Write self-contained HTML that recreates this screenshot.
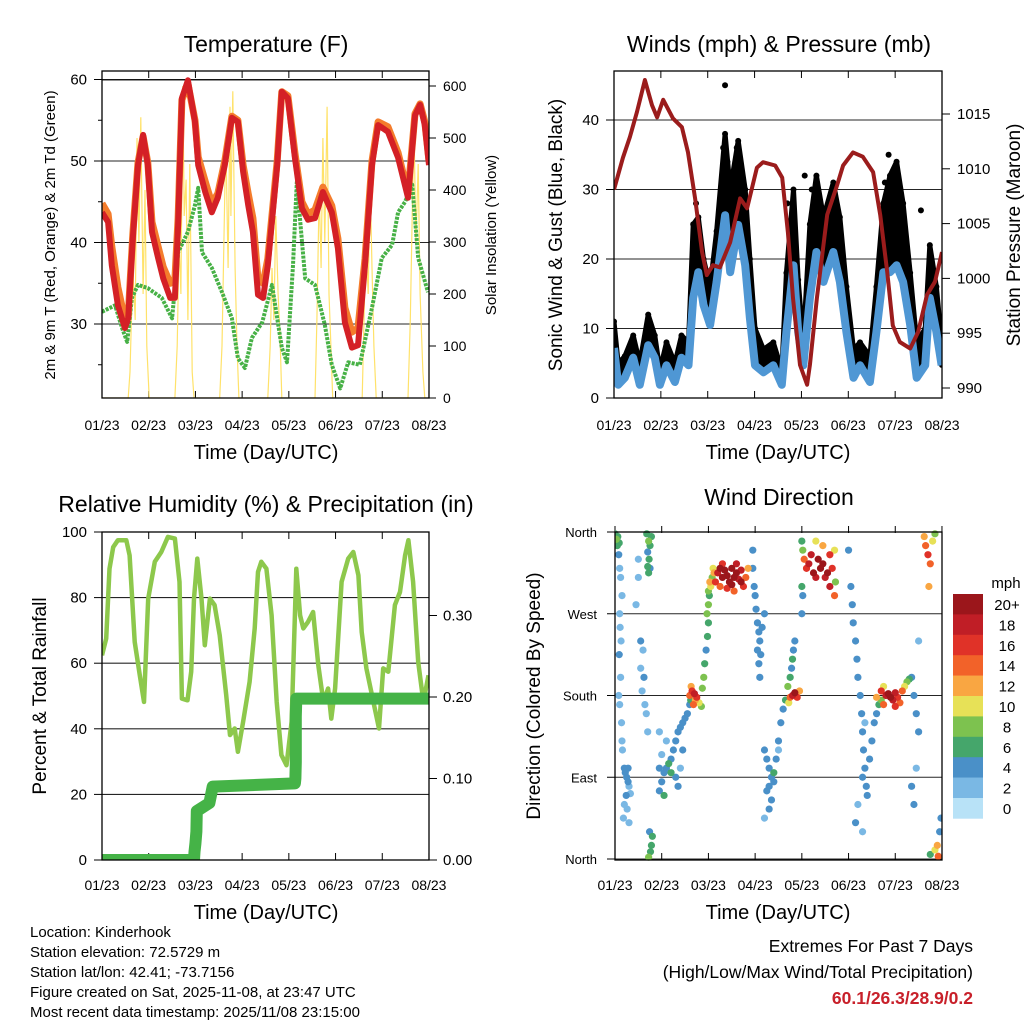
<!DOCTYPE html>
<html><head><meta charset="utf-8"><style>
html,body{margin:0;padding:0;background:#fff}
svg{display:block;font-family:"Liberation Sans",Arial,sans-serif}
</style></head><body>
<svg id="root" width="1024" height="1024" viewBox="0 0 1024 1024" xmlns="http://www.w3.org/2000/svg">
<defs>
<clipPath id="cT"><rect x="102" y="71" width="327" height="327"/></clipPath>
<clipPath id="cW"><rect x="614" y="71" width="328" height="327"/></clipPath>
<clipPath id="cR"><rect x="102" y="532" width="327" height="328"/></clipPath>
<clipPath id="cD"><rect x="615" y="526" width="327" height="340"/></clipPath>
</defs>
<g id="static" fill="#000">
<text x="266" y="52" font-size="23" text-anchor="middle">Temperature (F)</text>
<text x="779" y="52" font-size="23" text-anchor="middle">Winds (mph) &amp; Pressure (mb)</text>
<text x="266" y="512" font-size="23" text-anchor="middle">Relative Humidity (%) &amp; Precipitation (in)</text>
<text x="779" y="505" font-size="23" text-anchor="middle">Wind Direction</text>
<text x="266" y="459" font-size="20" text-anchor="middle">Time (Day/UTC)</text>
<text x="778" y="459" font-size="20" text-anchor="middle">Time (Day/UTC)</text>
<text x="266" y="919" font-size="20" text-anchor="middle">Time (Day/UTC)</text>
<text x="778" y="919" font-size="20" text-anchor="middle">Time (Day/UTC)</text>
<text transform="translate(55,235) rotate(-90)" font-size="15" text-anchor="middle">2m &amp; 9m T (Red, Orange) &amp; 2m Td (Green)</text>
<text transform="translate(496,235) rotate(-90)" font-size="15" text-anchor="middle">Solar Insolation (Yellow)</text>
<text transform="translate(562,235) rotate(-90)" font-size="19" text-anchor="middle">Sonic Wind &amp; Gust (Blue, Black)</text>
<text transform="translate(1020,235) rotate(-90)" font-size="19" text-anchor="middle">Station Pressure (Maroon)</text>
<text transform="translate(46,696) rotate(-90)" font-size="19" text-anchor="middle">Percent &amp; Total Rainfall</text>
<text transform="translate(540,696) rotate(-90)" font-size="19" text-anchor="middle">Direction (Colored By Speed)</text>
<g font-size="15">
<text x="30" y="937">Location: Kinderhook</text>
<text x="30" y="957">Station elevation: 72.5729 m</text>
<text x="30" y="977">Station lat/lon: 42.41; -73.7156</text>
<text x="30" y="997">Figure created on Sat, 2025-11-08, at 23:47 UTC</text>
<text x="30" y="1017">Most recent data timestamp: 2025/11/08 23:15:00</text>
</g>
<g font-size="17.5" text-anchor="end">
<text x="973" y="952">Extremes For Past 7 Days</text>
<text x="973" y="978">(High/Low/Max Wind/Total Precipitation)</text>
<text x="973" y="1004" fill="#c8202a" font-weight="bold">60.1/26.3/28.9/0.2</text>
</g>
<text x="1006" y="588" font-size="15" text-anchor="middle">mph</text>
</g>
<g id="dyn"></g>
</svg>
<script>
// ---------- Temperature panel data ----------
const tempDays=[0,0.13,0.21,0.34,0.49,0.56,0.66,0.77,0.88,0.98,1.07,1.20,1.31,1.46,1.56,1.63,1.71,1.84,1.99,2.06,2.21,2.35,2.48,2.63,2.78,2.91,3.02,3.13,3.23,3.34,3.45,3.55,3.75,3.85,3.98,4.13,4.28,4.41,4.56,4.73,4.92,5.05,5.20,5.35,5.48,5.63,5.78,5.91,6.12,6.34,6.55,6.70,6.81,6.91,7.00];
const temp2m=[43.7,42.5,37.2,32.3,29.5,30.7,40.5,49.5,53.2,49.5,41.3,38.1,35.6,33.2,33.2,42.1,57.7,59.9,54.8,49.5,46.2,43.7,45.5,49.5,55.3,54.8,48.7,44.6,41.3,33.6,33.2,37.2,49.5,58.5,57.7,50.4,44.2,42.8,43.0,46.2,43.7,39.3,30.2,27.1,27.4,37.2,49.5,54.4,53.6,50.4,45.5,55.6,56.9,54.4,49.5];
const temp9m=[44.8,43.5,39.5,34.5,30.5,31.0,41.0,49.8,53.0,49.8,42.5,39.5,37.0,35.0,35.5,43.0,57.5,59.5,55.0,50.5,47.5,44.8,46.0,50.0,55.5,55.0,49.5,46.0,43.0,35.5,35.0,38.0,50.0,58.5,58.0,51.0,45.0,43.5,44.0,46.8,44.5,40.5,32.0,29.0,29.5,38.0,50.0,54.8,54.2,51.0,46.0,55.8,57.0,54.8,50.0];
const dewDays=[0,0.28,0.43,0.54,0.64,0.77,0.98,1.28,1.50,1.63,1.84,1.99,2.06,2.14,2.35,2.57,2.78,2.91,3.06,3.21,3.43,3.64,3.85,3.96,4.09,4.17,4.35,4.56,4.77,4.92,5.10,5.27,5.52,5.78,5.99,6.21,6.34,6.49,6.64,6.77,6.98];
const dewpoint=[31.5,32.3,29.5,27.8,33.2,34.8,34.4,33.2,30.7,38.8,41.3,44.6,46.7,38.8,36.9,33.9,30.7,25.8,24.6,28.3,30.2,34.8,27.1,25.3,37.2,47.4,35.6,34.8,29.9,25.0,22.1,25.3,25.0,32.0,38.1,39.7,43.7,45.0,47.1,38.1,33.9];
const solarDays=[0,0.56,0.60,0.66,0.71,0.75,0.79,0.83,0.88,0.92,0.96,1.01,1.56,1.61,1.65,1.69,1.73,1.76,1.80,1.84,1.88,1.93,1.97,2.52,2.57,2.61,2.65,2.70,2.74,2.76,2.80,2.85,2.89,2.93,3.55,3.60,3.64,3.68,3.72,3.77,3.81,3.85,4.56,4.60,4.65,4.69,4.73,4.77,4.82,4.86,4.90,4.94,5.57,5.61,5.65,5.70,5.74,5.78,5.82,5.87,6.55,6.60,6.64,6.68,6.72,6.77,6.81,6.87,6.91,7.0];
const solar=[0,0,50,250,150,500,300,540,200,400,100,0,0,100,300,200,600,350,420,150,450,50,0,0,100,300,500,250,560,350,590,250,100,0,0,100,250,150,350,200,120,0,0,150,400,250,500,300,560,200,100,0,0,150,300,200,420,250,100,0,0,150,350,520,300,450,200,50,0,0];
const tempTicks=[30,40,50,60];
const solarTicks=[0,100,200,300,400,500,600];
const dayLabels=['01/23','02/23','03/23','04/23','05/23','06/23','07/23','08/23'];
// ---------- Wind panel data ----------
const presDays=[0,0.19,0.34,0.49,0.66,0.81,0.92,1.05,1.26,1.45,1.58,1.73,1.88,1.98,2.11,2.26,2.48,2.69,2.84,3.05,3.18,3.44,3.59,3.71,3.82,3.97,4.12,4.18,4.33,4.55,4.76,4.89,5.10,5.31,5.53,5.68,5.83,5.95,6.10,6.32,6.49,6.68,6.85,7.0];
const pressure=[1008.1,1011.0,1012.9,1015.2,1018.1,1015.8,1014.7,1016.3,1014.6,1013.8,1011.5,1007.3,1002.4,1000.3,1001.2,1001.0,1003.3,1007.3,1006.4,1010.1,1010.6,1010.3,1009.2,1004.2,998.2,992.1,990.3,992.1,998.2,1005.8,1008.5,1010.3,1011.5,1011.1,1009.7,1005.8,1000.6,995.7,994.2,993.6,995.1,998.5,999.7,1002.4];
const windDays=[0,0.09,0.23,0.41,0.55,0.73,0.87,0.98,1.12,1.30,1.44,1.59,1.69,1.80,1.91,2.05,2.19,2.37,2.48,2.65,2.80,2.90,3.01,3.19,3.40,3.58,3.68,3.83,3.93,4.04,4.18,4.32,4.47,4.68,4.82,4.96,5.11,5.25,5.46,5.60,5.75,5.89,6.03,6.17,6.32,6.46,6.64,6.74,6.88,6.99];
const windSpd=[7.2,1.9,2.9,5.8,1.9,7.6,5.8,1.9,4.7,2.3,5.8,4.7,14.4,18.1,13.4,10.5,16.7,26.3,18.1,24.9,19.1,11.5,4.7,3.7,4.7,1.9,9.5,19.1,9.5,4.7,14.4,21.0,16.7,21.0,16.7,9.5,2.9,4.7,2.3,9.5,18.1,18.1,19.1,16.7,10.5,2.9,4.7,14.4,9.5,4.7];
const windGust=[11,5,6,9,5,12,9,4,8,5,9,8,25,26,20,16,24,38,30,37,30,20,10,7,8,4,18,30,17,8,25,32,26,31,26,16,7,8,6,16,28,32,34,28,18,8,10,22,16,8];
const outlierDays=[2.37,2.33,2.42,2.62,1.75,4.07,3.70,4.22,5.86,5.78,6.55,2.72];
const outlierGust=[45,36,34,36,28,32,28,30,35,31,27,27];
const windTicks=[0,10,20,30,40];
const presTicks=[990,995,1000,1005,1010,1015];
// ---------- RH panel data ----------
const rhDays=[0,0.09,0.16,0.24,0.34,0.52,0.59,0.70,0.81,0.90,0.99,1.13,1.27,1.41,1.56,1.66,1.71,1.83,1.91,1.97,2.04,2.13,2.20,2.31,2.41,2.52,2.66,2.74,2.84,2.91,3.02,3.16,3.27,3.34,3.41,3.52,3.63,3.74,3.84,3.95,4.06,4.13,4.16,4.24,4.31,4.41,4.52,4.63,4.74,4.84,4.91,4.99,5.13,5.27,5.38,5.49,5.56,5.66,5.81,5.93,6.02,6.13,6.27,6.38,6.49,6.56,6.66,6.77,6.88,6.99];
const rh=[62.4,67.5,88.8,95.4,97.5,97.5,92.9,66.5,56.3,48.2,79.7,90.9,93.9,98.5,98,84.8,49.2,48.7,57.4,79.7,91.9,79.7,65.5,79.7,77.7,68.5,50.3,38.1,40.1,33,42.1,54.3,70.6,87.8,90.9,88.8,74.6,48.2,32,28.9,42.1,74.6,88.8,74.6,70.6,72.6,75.6,59.4,48.2,52.3,43.1,52.3,84.8,91.9,93.9,86.8,69.5,58.4,48.2,40.1,58.4,57.4,77.7,81.7,92.9,97.5,84.8,60.4,48.2,56.3];
const precipDays=[0,1.97,1.98,2.00,2.02,2.03,2.30,2.37,4.13,4.14,4.15,4.15,4.15,4.16,7.0];
const precip=[0,0,0.01,0.02,0.035,0.06,0.07,0.09,0.094,0.10,0.12,0.137,0.176,0.198,0.198];
const rhTicks=[0,20,40,60,80,100];
const precipTicks=[0,0.1,0.2,0.3];
// ---------- Wind direction data ----------
const dirDays=[0.0,0.03,0.06,0.09,0.05,0.08,0.10,0.12,0.15,0.10,0.11,0.13,0.09,0.12,0.08,0.10,0.14,0.16,0.2,0.22,0.25,0.28,0.3,0.24,0.2,0.26,0.18,0.3,0.15,0.28,0.33,0.5,0.5,0.55,0.6,0.62,0.58,0.64,0.67,0.7,0.55,0.45,0.68,0.72,0.75,0.7,0.73,0.78,0.75,0.72,0.7,0.72,0.76,0.78,0.8,0.74,0.95,1.0,1.05,1.1,1.15,1.2,1.25,1.3,1.35,1.4,1.45,1.5,1.55,1.6,1.62,1.0,1.2,1.05,1.3,1.4,1.45,0.95,1.1,0.95,1.35,1.6,1.65,1.7,1.75,1.72,1.68,1.8,1.85,1.87,1.63,1.9,1.92,1.95,1.98,2.0,1.97,2.0,2.02,2.05,2.08,2.1,2.03,2.12,2.0,2.2,2.25,2.3,2.35,2.4,2.45,2.5,2.55,2.6,2.65,2.7,2.75,2.8,2.85,2.25,2.4,2.55,2.3,2.6,2.15,2.5,2.7,2.95,2.95,2.98,3.0,3.02,3.05,3.08,3.1,3.05,3.08,3.1,3.15,3.2,3.12,3.2,3.25,3.3,3.35,3.4,3.3,3.25,3.35,3.3,3.2,3.4,3.45,3.5,3.55,3.6,3.5,3.65,3.7,3.75,3.78,3.8,3.82,3.85,3.75,3.8,3.85,3.9,3.95,3.72,4.0,4.02,4.05,4.1,4.15,4.2,4.25,4.3,4.35,4.4,4.45,4.5,4.55,4.6,4.65,4.7,4.72,4.3,4.45,4.6,4.0,4.02,4.0,4.7,5.0,5.05,5.08,5.1,5.15,5.18,5.2,5.25,5.28,5.3,5.32,5.35,5.3,5.38,5.4,5.2,5.15,5.3,5.35,5.45,5.5,5.55,5.6,5.65,5.7,5.75,5.6,5.7,5.8,5.85,5.9,5.95,6.0,6.05,6.1,6.15,6.2,6.25,6.3,5.75,6.0,6.35,6.4,6.45,6.5,6.45,6.35,6.4,6.5,6.62,6.65,6.7,6.75,6.8,6.72,6.85,6.75,6.85,6.9,6.95,6.98,6.92];
const dirDeg=[358,352,355,348,345,335,320,310,290,270,255,240,225,200,180,170,150,120,100,95,90,85,80,70,60,55,45,40,130,100,72,330,310,240,230,200,185,170,160,140,210,280,358,350,345,338,330,355,320,315,322,2,8,15,25,30,75,85,95,100,105,110,120,130,140,145,150,155,160,170,175,115,95,70,90,100,120,100,130,140,80,180,185,182,178,175,170,172,168,188,190,200,215,230,245,260,270,280,290,300,310,320,305,315,295,315,320,310,318,312,305,320,310,315,308,318,300,310,320,300,298,295,325,325,305,302,305,340,320,300,290,275,260,250,240,230,215,200,255,270,225,120,110,100,90,85,80,75,65,55,45,95,110,130,150,165,120,175,190,200,210,220,230,240,178,180,183,178,185,172,350,340,330,320,325,335,315,310,330,320,325,310,315,300,320,340,305,350,345,335,300,290,270,290,340,300,280,260,240,220,200,180,160,140,120,100,90,80,70,60,40,30,150,110,130,150,160,170,175,190,178,185,180,182,178,175,183,178,172,185,190,195,198,170,168,200,180,160,140,100,80,60,240,355,345,335,325,350,300,358,5,10,15,30,45,3];
const dirSpd=[6,7,6,5,6,3,2,1,1,2,1,2,3,2,2,1,2,1,3,4,3,4,2,3,2,1,1,2,1,4,2,2,1,3,2,3,2,1,2,1,2,1,6,7,6,4,6,5,4,5,6,7,6,6,5,4,4,4,3,4,5,3,4,3,4,4,4,3,4,4,5,2,6,5,3,2,3,3,2,2,4,14,16,18,15,12,14,10,8,8,12,8,6,4,5,6,8,7,6,9,8,10,11,12,7,18,20,19,21,20,22,20,19,21,18,17,16,14,12,13,16,14,15,18,16,20,20,4,4,4,4,4,3,4,4,4,4,4,3,4,3,3,4,4,3,4,4,3,3,3,2,6,3,4,3,4,2,6,8,6,4,5,3,4,14,18,20,16,12,10,6,8,14,16,18,18,20,17,20,21,19,18,22,17,15,10,8,10,12,16,5,4,4,14,4,4,4,4,3,3,4,4,3,4,4,3,4,4,3,2,3,2,2,4,3,4,3,6,8,10,12,15,18,20,19,18,17,15,14,13,10,8,6,13,16,4,3,4,3,2,4,3,2,12,14,16,14,10,12,8,6,10,12,4,3,14];
const dirTickLabels=['North','East','South','West','North'];
const dirTicks=[0,90,180,270,360];
const speedBins=['0','2','4','6','8','10','12','14','16','18','20+'];
const speedColors=['#b8e2f7','#7ab8e4','#4a90c8','#45a66b','#7dc24f','#e7e157','#f9a642','#f26229','#e03228','#c01e26','#9b161b'];

// ---------- scales ----------
const xT=d=>102+d*46.71, yT=v=>324-(v-30)*8.15, yS=v=>398-v*0.52;
const xW=d=>614+d*46.86, yW=v=>398-v*6.95, yP=p=>388-(p-990)*10.96;
const xR=d=>102+d*46.71, yR=v=>860-v*3.28, yPr=v=>860-v*815;
const xD=d=>615+d*46.71, yD=g=>859-g*0.9083;

const NS='http://www.w3.org/2000/svg';
const dyn=document.getElementById('dyn');
function mk(tag,attrs,parent){const e=document.createElementNS(NS,tag);for(const k in attrs)e.setAttribute(k,attrs[k]);(parent||dyn).appendChild(e);return e;}
function pts(xs,ys,fx,fy){return xs.map((d,i)=>fx(d).toFixed(1)+','+fy(ys[i]).toFixed(1)).join(' ');}
function grp(clip){const g=mk('g',clip?{'clip-path':'url(#'+clip+')'}:{});return g;}

function frame(x0,y0,x1,y1,name){
  const r=mk('rect',{x:x0,y:y0,width:x1-x0,height:y1-y0,fill:'none',stroke:'#000','stroke-width':1.3});
  
  
}
function hgrid(x0,x1,y,name){
  const l=mk('line',{x1:x0,x2:x1,y1:y,y2:y,stroke:'#000','stroke-width':1.1,opacity:0.85});
  
  
}
function tickText(x,y,txt,anchor,size,name){
  const t=mk('text',{x:x,y:y,'font-size':size||14,'text-anchor':anchor});
  t.textContent=txt;
  
  
}
function tickMark(x1,y1,x2,y2){
  const l=mk('line',{x1:x1,y1:y1,x2:x2,y2:y2,stroke:'#000','stroke-width':1});
  
  
}
function xAxis(fx,yb,yt,labelY){
  dayLabels.forEach((lab,i)=>{const x=fx(i);tickMark(x,yb,x,yb-7);tickMark(x,yt,x,yt+7);tickText(x,labelY,lab,'middle',14,'x-tick-label');});
}

// Temperature
xAxis(xT,398,71,430);
tempTicks.forEach(v=>{hgrid(102,429,yT(v),'temp-gridline');tickMark(94,yT(v),102,yT(v));tickText(87,yT(v)+5,String(v),'end',15,'temp-tick-label');});
[25,35,45,55].forEach(v=>tickMark(98,yT(v),102,yT(v)));
solarTicks.forEach(v=>{tickMark(429,yS(v),436,yS(v));tickText(443,yS(v)+5,String(v),'start',14,'solar-tick-label');});
hgrid(102,429,80,'temp-top-line');
// Wind
xAxis(xW,398,71,430);
windTicks.forEach(v=>{if(v>0)hgrid(614,942,yW(v),'wind-gridline');tickMark(606,yW(v),614,yW(v));tickText(599,yW(v)+5,String(v),'end',15,'wind-tick-label');});
presTicks.forEach(p=>{tickMark(942,yP(p),950,yP(p));tickText(957,yP(p)+5,String(p),'start',15,'pressure-tick-label');});
// RH
xAxis(xR,860,532,890);
rhTicks.forEach(v=>{if(v>0&&v<100)hgrid(102,429,yR(v),'rh-gridline');tickMark(94,yR(v),102,yR(v));tickText(87,yR(v)+5,String(v),'end',15,'rh-tick-label');});
precipTicks.forEach(v=>{tickMark(429,yPr(v),437,yPr(v));tickText(443,yPr(v)+5,v.toFixed(2),'start',15,'precip-tick-label');});
// Direction
xAxis(xD,860,526,890);
dirTicks.forEach((g,i)=>{hgrid(615,942,yD(g),'direction-gridline');tickMark(607,yD(g),615,yD(g));tickText(597,yD(g)+5,dirTickLabels[i],'end',13,'direction-tick-label');});

// ---------- Temperature series ----------
let g=grp('cT');


let e=mk('polyline',{points:pts(solarDays,solar,xT,yS),fill:'none',stroke:'#ffe26a','stroke-width':1.2},g);


e=mk('polyline',{points:pts(dewDays,dewpoint,xT,yT),fill:'none',stroke:'#47b146','stroke-width':4,'stroke-dasharray':'3 1.2','stroke-linejoin':'round'},g);


e=mk('polyline',{points:pts(tempDays,temp9m,xT,yT),fill:'none',stroke:'#f47c2c','stroke-width':7,'stroke-linejoin':'round'},g);


e=mk('polyline',{points:pts(tempDays,temp2m,xT,yT),fill:'none',stroke:'#d42026','stroke-width':6,'stroke-linejoin':'round'},g);



// ---------- Wind series ----------
g=grp('cW');


const back=windDays.slice().reverse(), backV=windSpd.slice().reverse();
e=mk('polygon',{points:pts(windDays,windGust,xW,yW)+' '+pts(back,backV,xW,yW),fill:'#000',stroke:'#000','stroke-width':5,'stroke-linejoin':'round'},g);


windDays.forEach((d,i)=>{
  const c=mk('circle',{cx:xW(d),cy:yW(windGust[i]),r:3,fill:'#000'},g);
  
  
});
outlierDays.forEach((d,i)=>{
  const c=mk('circle',{cx:xW(d),cy:yW(outlierGust[i]),r:3,fill:'#000'},g);
  
  
});
e=mk('polyline',{points:pts(windDays,windSpd,xW,yW),fill:'none',stroke:'#4f97d4','stroke-width':8,'stroke-linejoin':'round'},g);


e=mk('polyline',{points:pts(presDays,pressure,xW,yP),fill:'none',stroke:'#9b1c1c','stroke-width':4,'stroke-linejoin':'round'},g);



// ---------- RH series ----------
g=grp('cR');


e=mk('polyline',{points:pts(rhDays,rh,xR,yR),fill:'none',stroke:'#8dc84c','stroke-width':4.5,'stroke-linejoin':'round'},g);


e=mk('polyline',{points:pts(precipDays,precip,xR,yPr),fill:'none',stroke:'#45b347','stroke-width':12,'stroke-linejoin':'round','stroke-linecap':'round'},g);



// ---------- Direction scatter ----------
g=grp('cD');


function binOf(s){return Math.max(0,Math.min(10,Math.round(s/2)));}
const order=dirDays.map((d,i)=>i).sort((a,b)=>dirSpd[a]-dirSpd[b]);
order.forEach(i=>{
  const c=mk('circle',{cx:xD(dirDays[i]),cy:yD(dirDeg[i]),r:3.6,fill:speedColors[binOf(dirSpd[i])]},g);
  
  
});

frame(102,71,429,398,'temperature-frame');
frame(614,71,942,398,'wind-frame');
frame(102,532,429,860,'humidity-frame');
frame(615,532,942,860,'direction-frame');

// ---------- colorbar ----------
const cbTop=594, cbH=20.4;
speedBins.forEach((lab,i)=>{
  const k=10-i;
  const r=mk('rect',{x:953,y:cbTop+i*cbH,width:30,height:cbH+0.3,fill:speedColors[k]});
  
  
  tickText(1007,cbTop+i*cbH+16,speedBins[k],'middle',15,'colorbar-label');
});
</script>
</body></html>
